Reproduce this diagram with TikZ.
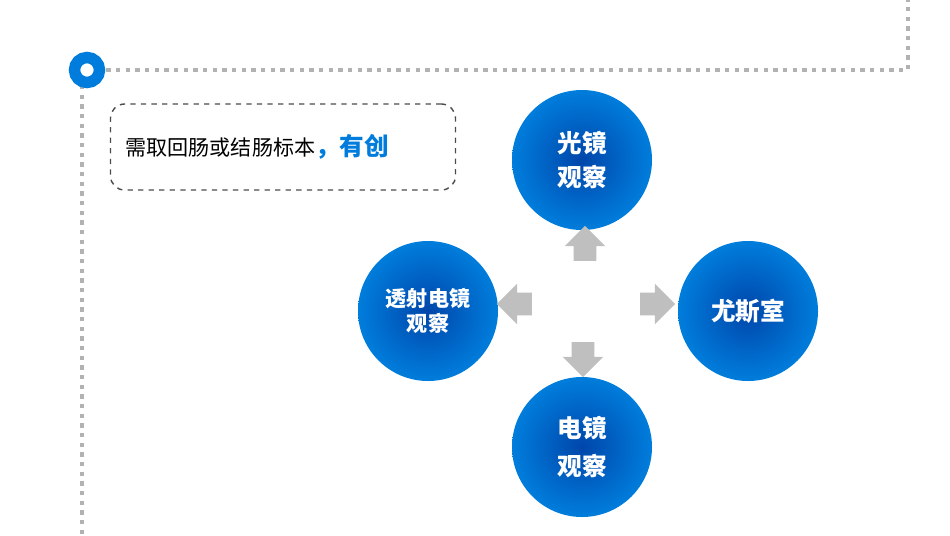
\documentclass[tikz,border=0pt]{standalone}
\usepackage{fontspec}
\newfontfamily\cjk{Noto Sans CJK SC}[BoldFont={Noto Sans CJK SC Black}]
\usetikzlibrary{shapes, arrows, positioning, backgrounds}
\definecolor{mblue}{RGB}{0,125,220}
\definecolor{dblue}{RGB}{0,70,170}
\tikzstyle{ball}=[shape=circle,minimum size=2.8cm,inner sep=0pt,align=center,text=white,font=\cjk\bfseries\fontsize{14}{19}\selectfont,inner color=dblue,outer color=mblue]
\tikzstyle{blk}=[single arrow,draw=none,fill=black!25,minimum height=0.7cm,inner sep=0.22cm,single arrow head extend=0.18cm]
\tikzstyle{dots}=[black!30,line width=2.5pt,dash pattern=on 2.5pt off 3pt]
\begin{document}
\begin{tikzpicture}
\useasboundingbox (0,0) rectangle (19,-10.7);
% frame
\coordinate (c0) at (1.74,-1.4);
\coordinate (c1) at (18.16,-1.4);
\coordinate (c2) at (18.16,0);
\coordinate (c3) at (1.64,-10.7);
\draw[dots] (c0) -- (c1) -- (c2);
\draw[dots] (1.64,-1.7) -- (c3);
\node[circle,draw=mblue,line width=6.5pt,minimum size=0.5cm,fill=white] (ring) at (c0) {};
% box
\node[draw=black!70,dashed,thick,rounded corners=8pt,minimum width=6.9cm,minimum height=1.72cm,text width=6.3cm,font=\cjk\fontsize{12}{15}\selectfont] (box) at (5.66,-2.94)
  {\raisebox{-2pt}{需取回肠或结肠标本\textcolor{mblue}{\bfseries\fontsize{14}{17}\selectfont ，有创}}};
% balls
\node[ball] (top) at (11.64,-3.2) {光镜\\观察};
\node[ball,font=\cjk\bfseries\fontsize{12}{14}\selectfont] (left) at (8.56,-6.22) {透射电镜\\观察};
\node[ball] (right) at (14.96,-6.22) {尤斯室};
\node[ball,font=\cjk\bfseries\fontsize{14}{22}\selectfont] (bottom) at (11.64,-8.94) {电镜\\观察};
% arrows
\node[blk,rotate=90] (au) at (11.7,-4.98) {};
\node[blk,rotate=180] (al) at (10.4,-6.08) {};
\node[blk] (ar) at (13.04,-6.08) {};
\node[blk,rotate=-90] (ad) at (11.66,-7.08) {};
\end{tikzpicture}
\end{document}
